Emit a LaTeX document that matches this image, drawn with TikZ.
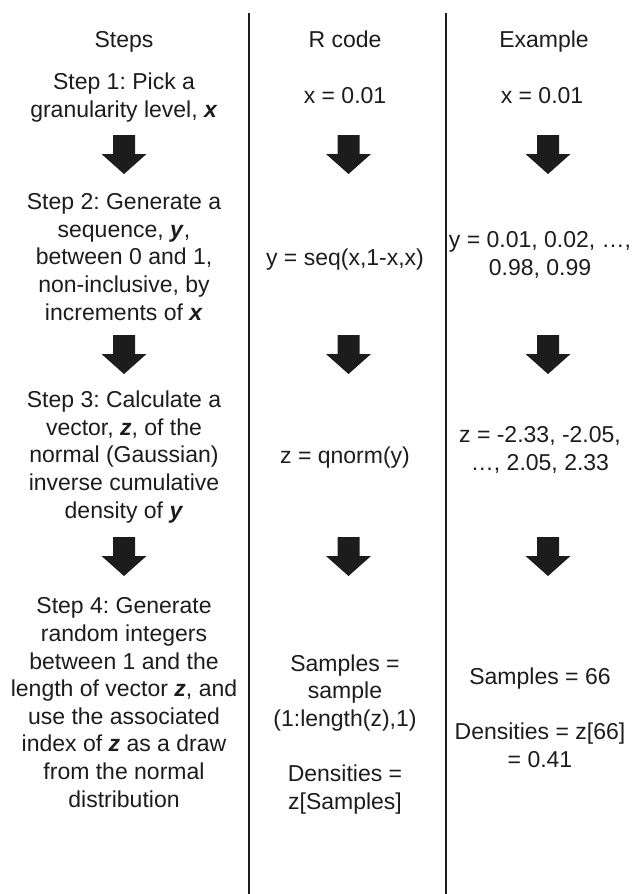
\documentclass[tikz,border=0pt]{standalone}
\usepackage{fontspec}
\setmainfont{Liberation Sans}
\frenchspacing
\definecolor{inkgray}{RGB}{28,28,28}
\newcommand{\vb}[1]{\textbf{\textit{#1}}}

\begin{document}
\begin{tikzpicture}[
  x=1pt, y=-1pt,
  cell/.style={align=center, inner sep=0pt, anchor=base, text=inkgray,
    font=\fontsize{23}{27.6}\selectfont},
  divider/.style={draw=inkgray, line width=1.1pt},
  blockarrow/.pic={\fill[inkgray] (-11,0) -- (11,0) -- (11,19) -- (22.5,19)
    -- (0,39) -- (-22.5,19) -- (-11,19) -- cycle;},
]
  \useasboundingbox (0,0) rectangle (635,894);

  % Column dividers
  \coordinate (divLtop) at (249,12.7);
  \coordinate (divLbot) at (249,894);
  \coordinate (divRtop) at (446,12.7);
  \coordinate (divRbot) at (446,894);
  \draw[divider] (divLtop) -- (divLbot);
  \draw[divider] (divRtop) -- (divRbot);

  % Headers
  \node[cell] (stepsHead) at (124,47) {Steps};
  \node[cell] (codeHead) at (345,47) {R code};
  \node[cell] (exHead) at (544,47) {Example};

  % Steps column (anchored at the last line)
  \node[cell] (step1) at (124,117.5) {Step 1: Pick a\\granularity level, \vb{x}};
  \node[cell] (step2) at (124,320) {Step 2: Generate a\\sequence, \vb{y},\\between 0 and 1,\\non-inclusive, by\\increments of \vb{x}};
  \node[cell] (step3) at (124,518) {Step 3: Calculate a\\vector, \vb{z}, of the\\normal (Gaussian)\\inverse cumulative\\density of \vb{y}};
  \node[cell] (step4) at (124,807) {Step 4: Generate\\random integers\\between 1 and the\\length of vector \vb{z}, and\\use the associated\\index of \vb{z} as a draw\\from the normal\\distribution};

  % R code column
  \node[cell] (code1) at (345,103) {x = 0.01};
  \node[cell] (code2) at (345,265) {y = seq(x,1-x,x)};
  \node[cell] (code3) at (345,463) {z = qnorm(y)};
  \node[cell] (code4) at (345,809) {Samples =\\sample\\(1:length(z),1)\\[27.6pt]Densities =\\z[Samples]};

  % Example column
  \node[cell] (ex1) at (542,103) {x = 0.01};
  \node[cell] (ex2) at (540,275) {y = 0.01, 0.02, …,\\0.98, 0.99};
  \node[cell] (ex3) at (540,470) {z = -2.33, -2.05,\\…, 2.05, 2.33};
  \node[cell] (ex4) at (540,767) {Samples = 66\\[27.6pt]Densities = z[66]\\= 0.41};

  % Block arrows
  \pic at (124,135) {blockarrow};
  \pic at (348.5,135) {blockarrow};
  \pic at (548,135) {blockarrow};
  \pic at (124,335) {blockarrow};
  \pic at (348.5,335) {blockarrow};
  \pic at (548,335) {blockarrow};
  \pic at (124,537) {blockarrow};
  \pic at (348.5,537) {blockarrow};
  \pic at (548,537) {blockarrow};
\end{tikzpicture}
\end{document}
